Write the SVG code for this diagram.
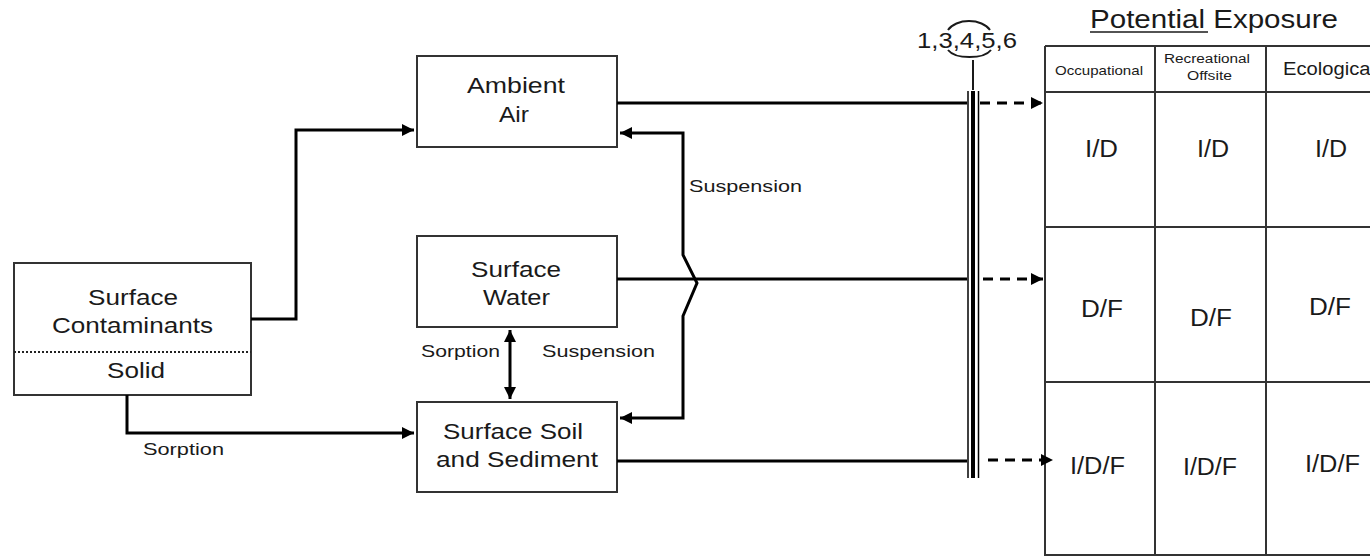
<svg xmlns="http://www.w3.org/2000/svg" width="1370" height="556" viewBox="0 0 1370 556">
<defs>
<style>
.box{fill:#fff;stroke:#333;stroke-width:2}
.t{font-family:"Liberation Sans",Arial,sans-serif;fill:#1a1a1a}
.bt{font-size:22px}
.lb{font-size:17px}
.c{stroke:#000;stroke-width:3;fill:none}
.d{stroke:#000;stroke-width:3;fill:none;stroke-dasharray:10 7}
.g{stroke:#333;stroke-width:2;fill:none}
</style>
<marker id="ah" viewBox="0 0 10 10" refX="10" refY="5" markerWidth="4.5" markerHeight="4" orient="auto-start-reverse" markerUnits="strokeWidth">
<path d="M0,0 L10,5 L0,10 z" fill="#000"/>
</marker>
</defs>
<rect width="1370" height="556" fill="#fff"/>

<g id="surface-contaminants">
<rect class="box" x="14" y="263" width="237" height="132"/>
<line x1="14" y1="352" x2="251" y2="352" stroke="#222" stroke-width="2" stroke-dasharray="2 2"/>
<text class="t bt" x="88" y="305" textLength="90" lengthAdjust="spacingAndGlyphs">Surface</text>
<text class="t bt" x="52" y="333" textLength="161" lengthAdjust="spacingAndGlyphs">Contaminants</text>
<text class="t bt" x="107" y="378" textLength="58" lengthAdjust="spacingAndGlyphs">Solid</text>
</g>

<g id="ambient-air">
<rect class="box" x="417" y="56" width="200" height="91"/>
<text class="t bt" x="467" y="93" textLength="98" lengthAdjust="spacingAndGlyphs">Ambient</text>
<text class="t bt" x="499" y="122" textLength="30" lengthAdjust="spacingAndGlyphs">Air</text>
</g>

<g id="surface-water">
<rect class="box" x="417" y="236" width="200" height="91"/>
<text class="t bt" x="471" y="277" textLength="90" lengthAdjust="spacingAndGlyphs">Surface</text>
<text class="t bt" x="483" y="305" textLength="67" lengthAdjust="spacingAndGlyphs">Water</text>
</g>

<g id="surface-soil">
<rect class="box" x="417" y="402" width="200" height="90"/>
<text class="t bt" x="443" y="439" textLength="140" lengthAdjust="spacingAndGlyphs">Surface Soil</text>
<text class="t bt" x="436" y="467" textLength="162" lengthAdjust="spacingAndGlyphs">and Sediment</text>
</g>

<g id="exposure-table">
<text class="t" x="1090" y="28" font-size="25" textLength="248" lengthAdjust="spacingAndGlyphs">Potential Exposure</text>
<line x1="1090" y1="32" x2="1208" y2="32" stroke="#1a1a1a" stroke-width="1.5"/>
<path class="g" d="M1045,46 H1372 M1045,92 H1372 M1045,227 H1372 M1045,382 H1372 M1045,555 H1372 M1045,46 V556 M1155,46 V556 M1266,46 V556"/>
<text class="t" x="1055" y="75" font-size="13" textLength="88" lengthAdjust="spacingAndGlyphs">Occupational</text>
<text class="t" x="1164" y="63" font-size="12" textLength="86" lengthAdjust="spacingAndGlyphs">Recreational</text>
<text class="t" x="1187" y="80" font-size="12" textLength="45" lengthAdjust="spacingAndGlyphs">Offsite</text>
<text class="t" x="1283" y="75" font-size="18" textLength="92" lengthAdjust="spacingAndGlyphs">Ecological</text>
<text class="t" x="1085" y="157" font-size="23" textLength="33" lengthAdjust="spacingAndGlyphs">I/D</text>
<text class="t" x="1197" y="157" font-size="23" textLength="32" lengthAdjust="spacingAndGlyphs">I/D</text>
<text class="t" x="1315" y="157" font-size="23" textLength="32" lengthAdjust="spacingAndGlyphs">I/D</text>
<text class="t" x="1081" y="317" font-size="23" textLength="42" lengthAdjust="spacingAndGlyphs">D/F</text>
<text class="t" x="1190" y="326" font-size="23" textLength="42" lengthAdjust="spacingAndGlyphs">D/F</text>
<text class="t" x="1309" y="315" font-size="23" textLength="42" lengthAdjust="spacingAndGlyphs">D/F</text>
<text class="t" x="1070" y="474" font-size="23" textLength="55" lengthAdjust="spacingAndGlyphs">I/D/F</text>
<text class="t" x="1183" y="475" font-size="23" textLength="54" lengthAdjust="spacingAndGlyphs">I/D/F</text>
<text class="t" x="1305" y="472" font-size="23" textLength="55" lengthAdjust="spacingAndGlyphs">I/D/F</text>
</g>

<g id="pathway-bar">
<text class="t" x="917" y="48" font-size="22" textLength="100" lengthAdjust="spacingAndGlyphs">1,3,4,5,6</text>
<path d="M948,30 A23 15 0 0 1 990,30" stroke="#1a1a1a" stroke-width="2" fill="none"/>
<path d="M948,50 A23 11 0 0 0 991,50" stroke="#1a1a1a" stroke-width="2" fill="none"/>
<line x1="973" y1="60" x2="973" y2="90" stroke="#1a1a1a" stroke-width="2"/>
<line x1="968" y1="91" x2="968" y2="478" stroke="#000" stroke-width="1.5"/>
<line x1="973" y1="91" x2="973" y2="478" stroke="#000" stroke-width="4"/>
<line x1="978.5" y1="91" x2="978.5" y2="478" stroke="#000" stroke-width="1.5"/>
</g>

<g id="connectors">
<polyline class="c" points="251,319 296,319 296,130 414,130" marker-end="url(#ah)"/>
<polyline class="c" points="127,395 127,433 414,433" marker-end="url(#ah)"/>
<polyline class="c" points="620,418 683,418 683,316 697,283 683,255 683,133 620,133" marker-start="url(#ah)" marker-end="url(#ah)"/>
<line class="c" x1="510" y1="330" x2="510" y2="399" marker-start="url(#ah)" marker-end="url(#ah)"/>
<line class="c" x1="617" y1="103" x2="967" y2="103"/>
<line class="c" x1="617" y1="279" x2="967" y2="279"/>
<line class="c" x1="617" y1="461" x2="967" y2="461"/>
<line class="d" x1="980" y1="103" x2="1043" y2="103" marker-end="url(#ah)"/>
<line class="d" x1="983" y1="279" x2="1043" y2="279" marker-end="url(#ah)"/>
<line class="d" x1="988" y1="460" x2="1053" y2="460" marker-end="url(#ah)"/>
<text class="t lb" x="689" y="192" textLength="113" lengthAdjust="spacingAndGlyphs">Suspension</text>
<text class="t lb" x="421" y="357" textLength="79" lengthAdjust="spacingAndGlyphs">Sorption</text>
<text class="t lb" x="542" y="357" textLength="113" lengthAdjust="spacingAndGlyphs">Suspension</text>
<text class="t lb" x="143" y="455" textLength="81" lengthAdjust="spacingAndGlyphs">Sorption</text>
</g>
</svg>
